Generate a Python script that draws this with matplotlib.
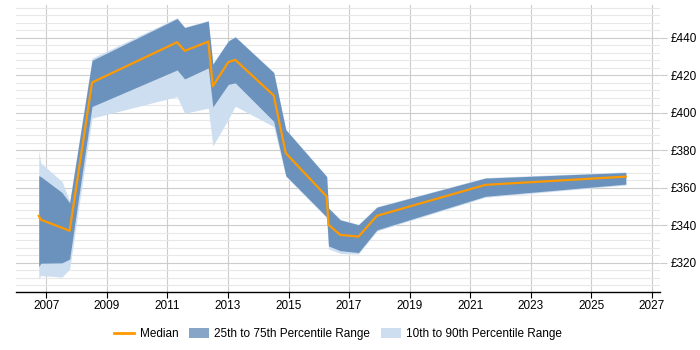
import matplotlib
matplotlib.use("Agg")
import matplotlib.pyplot as plt
from matplotlib.ticker import MultipleLocator, FuncFormatter
from matplotlib.lines import Line2D
from matplotlib.patches import Patch

plt.rcParams['font.family'] = ['Liberation Sans', 'DejaVu Sans']

years = [2006.75, 2006.82, 2007.52, 2007.77, 2008.51, 2011.32, 2011.57, 2012.35,
         2012.50, 2013.01, 2013.24, 2014.51, 2014.91, 2016.26, 2016.32, 2016.71,
         2017.31, 2017.92, 2021.50, 2026.14]
median = [345.1, 343.0, 338.7, 337.1, 416.2, 437.7, 433.1, 438.0,
          414.2, 427.1, 428.3, 409.3, 378.5, 355.4, 340.3, 334.9,
          334.0, 345.1, 361.6, 366.0]
p75 = [366.5, 366.0, 357.5, 352.0, 428.0, 450.3, 445.5, 449.0,
       426.0, 438.3, 440.5, 421.5, 391.0, 366.0, 349.2, 342.9,
       340.3, 349.7, 365.2, 368.2]
p25 = [318.0, 319.8, 320.0, 322.0, 403.4, 422.9, 418.1, 424.0,
       403.2, 415.2, 416.0, 395.5, 366.5, 344.5, 329.0, 326.5,
       325.5, 337.6, 355.5, 362.0]
p90 = [380.0, 373.2, 363.4, 353.0, 429.2, 450.8, 445.8, 449.3,
       426.3, 438.6, 440.8, 421.8, 391.3, 366.3, 349.5, 343.2,
       340.6, 350.0, 365.5, 368.5]
p10 = [311.8, 313.2, 312.4, 316.6, 397.2, 408.7, 399.8, 402.5,
       382.4, 396.5, 403.6, 392.7, 366.0, 344.0, 327.5, 325.0,
       324.7, 337.0, 355.0, 361.5]

light = '#cddef0'
dark = '#6b92bc'
orange = '#ff9900'

fig = plt.figure(figsize=(7, 3.5), dpi=100)
ax = fig.add_axes([0.0229, 0.166, 0.92, 0.82])

ax.fill_between(years, p10, p90, color=light, linewidth=0, zorder=2)
ax.fill_between(years, p25, p75, color=dark, linewidth=0, zorder=3)
ax.plot(years, median, color=orange, linewidth=1.6, zorder=4)

ax.set_xlim(2006.0, 2027.27)
ax.set_ylim(304.5, 457.6)

ax.set_xticks(range(2007, 2028, 2))
ax.yaxis.set_minor_locator(MultipleLocator(4))
ax.yaxis.set_major_formatter(FuncFormatter(lambda v, p: f"£{int(v)}"))
ax.yaxis.tick_right()
ax.set_yticks(range(320, 441, 20))

ax.grid(axis='x', which='major', color='#cccccc', linewidth=0.8, zorder=0)
ax.grid(axis='y', which='major', color='#cccccc', linewidth=0.8, zorder=0)
ax.grid(axis='y', which='minor', color='#e8e8e8', linewidth=0.8, zorder=0)
ax.set_axisbelow(True)

for s in ['top', 'left', 'right']:
    ax.spines[s].set_visible(False)
ax.spines['bottom'].set_color('black')
ax.spines['bottom'].set_linewidth(1.0)

ax.tick_params(axis='x', which='major', length=4, color='black', labelsize=8.5, pad=2)
ax.tick_params(axis='y', which='major', length=5, color='#cccccc', labelsize=8.5, pad=3)
ax.tick_params(axis='y', which='minor', length=0)

handles = [Line2D([0], [0], color=orange, linewidth=2),
           Patch(facecolor='#86a5c7', edgecolor='none'),
           Patch(facecolor=light, edgecolor='none')]
labels = ['Median', '25th to 75th Percentile Range', '10th to 90th Percentile Range']
fig.legend(handles, labels, loc='center', bbox_to_anchor=(0.483, 0.045), ncol=3,
           frameon=False, fontsize=8.5, handlelength=1.7, handleheight=0.95,
           columnspacing=0.9, handletextpad=0.45)

fig.savefig('out.png', dpi=100)
